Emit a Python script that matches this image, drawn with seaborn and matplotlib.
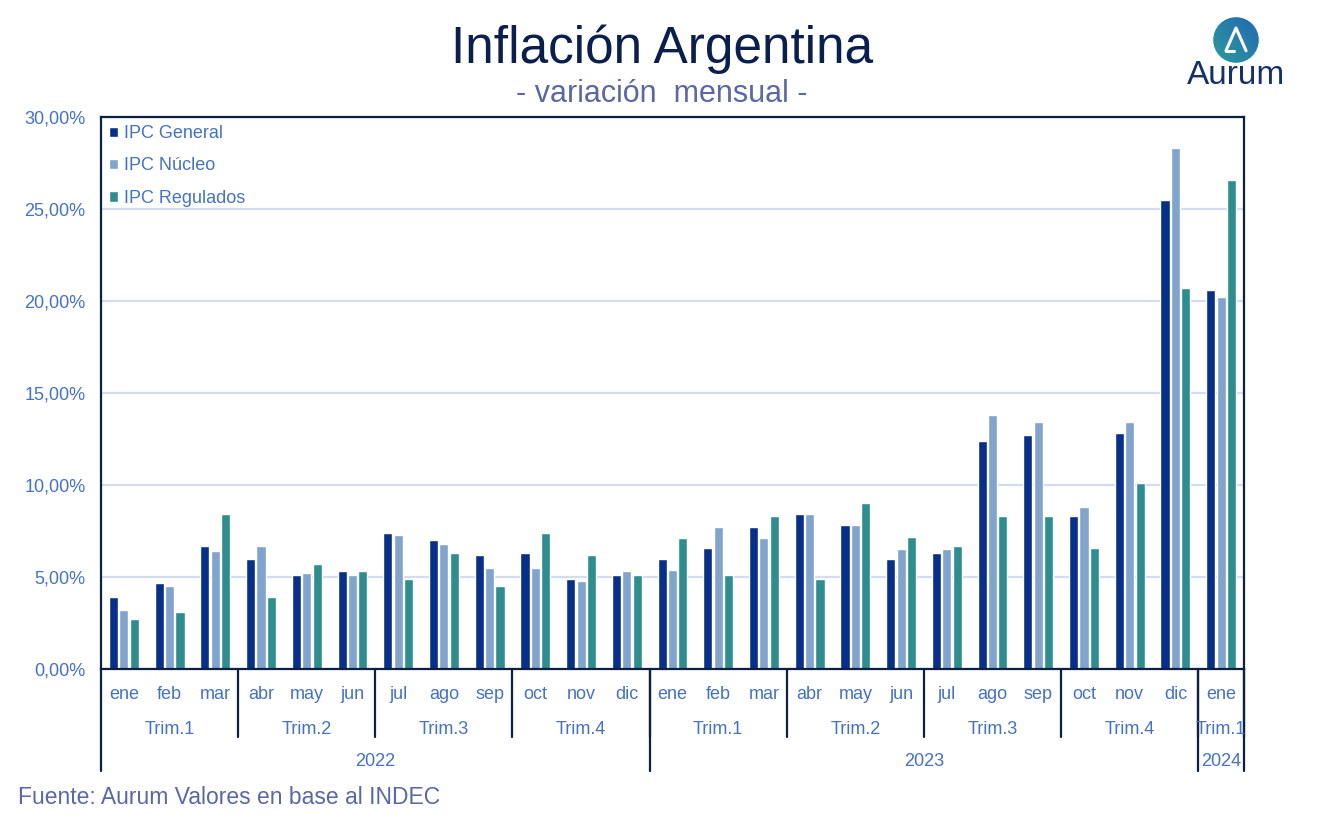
import numpy as np
import pandas as pd
import seaborn as sns
import matplotlib.pyplot as plt
from matplotlib.patches import Circle
from matplotlib.transforms import blended_transform_factory

# data (monthly % change)
months = ['ene', 'feb', 'mar', 'abr', 'may', 'jun', 'jul', 'ago', 'sep', 'oct', 'nov', 'dic'] * 2 + ['ene']
years = ['2022'] * 12 + ['2023'] * 12 + ['2024']
ipc_general = [3.9, 4.7, 6.7, 6.0, 5.1, 5.3, 7.4, 7.0, 6.2, 6.3, 4.9, 5.1,
               6.0, 6.6, 7.7, 8.4, 7.8, 6.0, 6.3, 12.4, 12.7, 8.3, 12.8, 25.5, 20.6]
ipc_nucleo = [3.2, 4.5, 6.4, 6.7, 5.2, 5.1, 7.3, 6.8, 5.5, 5.5, 4.8, 5.3,
              5.4, 7.7, 7.1, 8.4, 7.8, 6.5, 6.5, 13.8, 13.4, 8.8, 13.4, 28.3, 20.2]
ipc_regulados = [2.7, 3.1, 8.4, 3.9, 5.7, 5.3, 4.9, 6.3, 4.5, 7.4, 6.2, 5.1,
                 7.1, 5.1, 8.3, 4.9, 9.0, 7.2, 6.7, 8.3, 8.3, 6.6, 10.1, 20.7, 26.6]
series = ['IPC General', 'IPC Núcleo', 'IPC Regulados']
colors = ['#08308a', '#80a4cc', '#2e8d8f']
y_ticks = [0, 5, 10, 15, 20, 25, 30]

NAVY = '#0c1f45'
BLUE_TXT = '#4472c4'

sns.set_theme(style='white')
plt.rcParams['font.family'] = ['Liberation Sans', 'DejaVu Sans']

cats = [f'{y}-{m}' for y, m in zip(years, months)]
df = pd.DataFrame({
    'cat': cats * 3,
    'serie': np.repeat(series, len(cats)),
    'valor': ipc_general + ipc_nucleo + ipc_regulados,
})

fig = plt.figure(figsize=(13.24, 8.15), dpi=100)
ax = fig.add_axes([101 / 1324, 1 - 669 / 815, 1143 / 1324, 552 / 815])

sns.barplot(data=df, x='cat', y='valor', hue='serie', order=cats, hue_order=series,
            palette=colors, saturation=1, width=0.68, gap=0.12, errorbar=None, ax=ax)

ax.set_xlim(-0.5, len(cats) - 0.5)
ax.set_ylim(0, 30)
ax.set_yticks(y_ticks)
ax.set_yticklabels([f'{v:.2f}%'.replace('.', ',') for v in y_ticks], color=BLUE_TXT, fontsize=13)
ax.set_xticks(range(len(cats)))
ax.set_xticklabels(months, color=BLUE_TXT, fontsize=13)
ax.tick_params(axis='both', length=0)
ax.tick_params(axis='x', pad=12)
ax.tick_params(axis='y', pad=11)
ax.set_xlabel('')
ax.set_ylabel('')
ax.grid(axis='y', color='#d3ddef', lw=1.6)
ax.set_axisbelow(True)
for s in ax.spines.values():
    s.set_visible(True)
    s.set_color(NAVY)
    s.set_linewidth(1.6)

# legend
h, l = ax.get_legend_handles_labels()
ax.legend(h, l, loc='upper left', bbox_to_anchor=(0.0, 1.0), frameon=False,
          fontsize=13, labelcolor=BLUE_TXT, handlelength=0.5, handleheight=0.5,
          handletextpad=0.35, labelspacing=0.85, borderaxespad=0.15, borderpad=0.3)

# multi-level x axis: quarters and years
tr = blended_transform_factory(ax.transData, ax.transAxes)
quarter_keys = [f'{y}-Trim.{months[:12].index(m) // 3 + 1}' for y, m in zip(years, months)]
groups_q = []
for i, k in enumerate(quarter_keys):
    if groups_q and groups_q[-1][0] == k:
        groups_q[-1][2] = i
    else:
        groups_q.append([k, i, i])
groups_y = []
for i, k in enumerate(years):
    if groups_y and groups_y[-1][0] == k:
        groups_y[-1][2] = i
    else:
        groups_y.append([k, i, i])

y_q_line = (669 - 737) / 552
y_y_line = (669 - 771) / 552
for k, a, b in groups_q:
    ax.text((a + b) / 2, (669 - 729) / 552, k.split('-')[1], transform=tr, ha='center',
            va='center', fontsize=13, color=BLUE_TXT)
    ax.plot([b + 0.5, b + 0.5], [0, y_q_line], transform=tr, color=NAVY, lw=1.6, clip_on=False)
for k, a, b in groups_y:
    ax.text((a + b) / 2, (669 - 762) / 552, k, transform=tr, ha='center',
            va='center', fontsize=13, color=BLUE_TXT)
    ax.plot([b + 0.5, b + 0.5], [0, y_y_line], transform=tr, color=NAVY, lw=1.6, clip_on=False)
ax.plot([-0.5, -0.5], [0, y_y_line], transform=tr, color=NAVY, lw=1.6, clip_on=False)

# titles and source
fig.text(0.5, 1 - 49 / 815, 'Inflación Argentina', ha='center', va='center', fontsize=37,
         color='#0b1f4f')
fig.text(0.5, 1 - 94 / 815, '- variación  mensual -', ha='center', va='center', fontsize=22,
         color='#5b67a6')
fig.text(18 / 1324, 1 - 798 / 815, 'Fuente: Aurum Valores en base al INDEC', ha='left',
         va='center', fontsize=16.5, color='#5b67a6')

# logo
lax = fig.add_axes([(1236 - 24) / 1324, 1 - (40 + 24) / 815, 48 / 1324, 48 / 815])
lax.set_xlim(-1, 1)
lax.set_ylim(-1, 1)
lax.set_aspect('equal')
lax.axis('off')
gx, gy = np.meshgrid(np.linspace(0, 1, 64), np.linspace(0, 1, 64))
grad = (gx + (1 - gy)) / 2
img = lax.imshow(grad, extent=(-1, 1, -1, 1), cmap=sns.blend_palette(['#2a9d9b', '#2466b5'], as_cmap=True),
                 origin='upper')
circ = Circle((0, 0), 0.95, transform=lax.transData)
img.set_clip_path(circ)
lax.plot([-0.42, 0.0, 0.42], [-0.45, 0.5, -0.45], color='white', lw=2.2, solid_capstyle='round')
lax.plot([-0.42, -0.1], [-0.45, -0.45], color='white', lw=2.2, solid_capstyle='round')
fig.text(1236 / 1324, 1 - 76 / 815, 'Aurum', ha='center', va='center', fontsize=24, color='#16306a')

fig.savefig('out.png', dpi=100)
